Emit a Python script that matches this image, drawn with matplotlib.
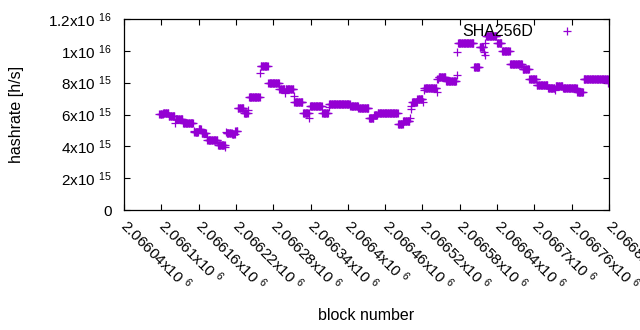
import numpy as np
import matplotlib
matplotlib.use("Agg")
import matplotlib.pyplot as plt

plt.rcParams['font.family'] = ['Liberation Sans', 'DejaVu Sans']
plt.rcParams['mathtext.fontset'] = 'custom'
plt.rcParams['mathtext.rm'] = 'Liberation Sans'

# ---- data: hashrate runs (each run holds its value until the next run starts)
run_start_block = [2066097, 2066103, 2066112, 2066122, 2066123, 2066135, 2066152, 2066153,
                   2066160, 2066165, 2066173, 2066174, 2066191, 2066203, 2066204, 2066205,
                   2066214, 2066219, 2066223, 2066233, 2066240, 2066241, 2066259, 2066260,
                   2066272, 2066290, 2066299, 2066300, 2066313, 2066314, 2066328, 2066338,
                   2066339, 2066359, 2066369, 2066370, 2066404, 2066417, 2066434, 2066442,
                   2066448, 2066481, 2066489, 2066500, 2066501, 2066502, 2066503, 2066512,
                   2066521, 2066522, 2066523, 2066543, 2066544, 2066546, 2066558, 2066575,
                   2066576, 2066577, 2066603, 2066612, 2066619, 2066620, 2066621, 2066622,
                   2066640, 2066648, 2066661, 2066681, 2066692, 2066704, 2066722, 2066733,
                   2066734, 2066746, 2066769, 2066779, 2066819]
run_hashrate_e15 = [6.03, 6.11, 5.91, 5.48, 5.72, 5.45, 4.98, 4.88,
                    5.11, 4.86, 4.57, 4.40, 4.08, 3.98, 4.92, 4.82,
                    4.76, 4.96, 6.39, 6.08, 6.28, 7.13, 8.59, 9.05,
                    7.96, 7.58, 7.37, 7.58, 7.16, 6.77, 6.08, 5.76,
                    6.52, 6.08, 6.45, 6.66, 6.55, 6.39, 5.76, 5.97,
                    6.08, 5.42, 5.59, 5.76, 6.33, 6.53, 6.80, 6.95,
                    6.80, 7.54, 7.68, 7.43, 8.23, 8.37, 8.10, 8.48,
                    9.91, 10.47, 8.97, 10.21, 9.93, 9.74, 10.47, 10.93,
                    10.47, 9.99, 9.15, 8.84, 8.21, 7.85, 7.68, 7.54,
                    7.79, 7.68, 7.39, 8.21, 7.96]
last_block = 2066820

x_ticks = [2066040, 2066100, 2066160, 2066220, 2066280, 2066340, 2066400,
           2066460, 2066520, 2066580, 2066640, 2066700, 2066760, 2066820]
x_tick_mant = ["2.06604", "2.0661", "2.06616", "2.06622", "2.06628", "2.06634", "2.0664",
               "2.06646", "2.06652", "2.06658", "2.06664", "2.0667", "2.06676", "2.06682"]
y_ticks = [0, 2e15, 4e15, 6e15, 8e15, 1e16, 1.2e16]
y_tick_labels = ["0", "2x10 $\\mathregular{^{15}}$", "4x10 $\\mathregular{^{15}}$",
                 "6x10 $\\mathregular{^{15}}$", "8x10 $\\mathregular{^{15}}$",
                 "1x10 $\\mathregular{^{16}}$", "1.2x10 $\\mathregular{^{16}}$"]

# expand runs into one point per block
ends = run_start_block[1:] + [last_block + 1]
blocks, rates = [], []
for s, e, v in zip(run_start_block, ends, run_hashrate_e15):
    for b in range(s, e):
        blocks.append(b)
        rates.append(v * 1e15)

color = '#9400D3'
fig = plt.figure(figsize=(6.4, 3.3), dpi=100)
ax = fig.add_axes([124/640, 1 - 210/330, 485/640, 191/330])
ax.plot(blocks, rates, linestyle='none', marker='+', color=color,
        markersize=6.0, markeredgewidth=0.9, label='SHA256D')

ax.set_xlim(2066040, 2066820)
ax.set_ylim(0, 1.2e16)
ax.set_xticks(x_ticks)
ax.set_xticklabels([m + "x10 $\\mathregular{^{6}}$" for m in x_tick_mant],
                   rotation=-45, ha='left', va='center', rotation_mode='anchor')
ax.set_yticks(y_ticks)
ax.set_yticklabels(y_tick_labels)
ax.tick_params(direction='in', length=4.5, width=0.8, top=True, right=True,
               labelsize=11, colors='black')
ax.tick_params(axis='x', pad=9)
ax.tick_params(axis='y', pad=9)
for sp in ax.spines.values():
    sp.set_linewidth(0.9)

fig.text(17/640, 1 - 114.5/330, 'hashrate [h/s]', rotation=90, ha='center', va='center',
         fontsize=11.5)
fig.text(366/640, 1 - 316/330, 'block number', ha='center', va='center', fontsize=11.5)

leg = ax.legend(loc='center right', bbox_to_anchor=(590/640, 1 - 32/330),
                bbox_transform=fig.transFigure, markerfirst=False, frameon=False,
                handlelength=2.9, handletextpad=0.69, borderpad=0, borderaxespad=0,
                fontsize=11.5, numpoints=1)

fig.savefig('out.png', dpi=100)
